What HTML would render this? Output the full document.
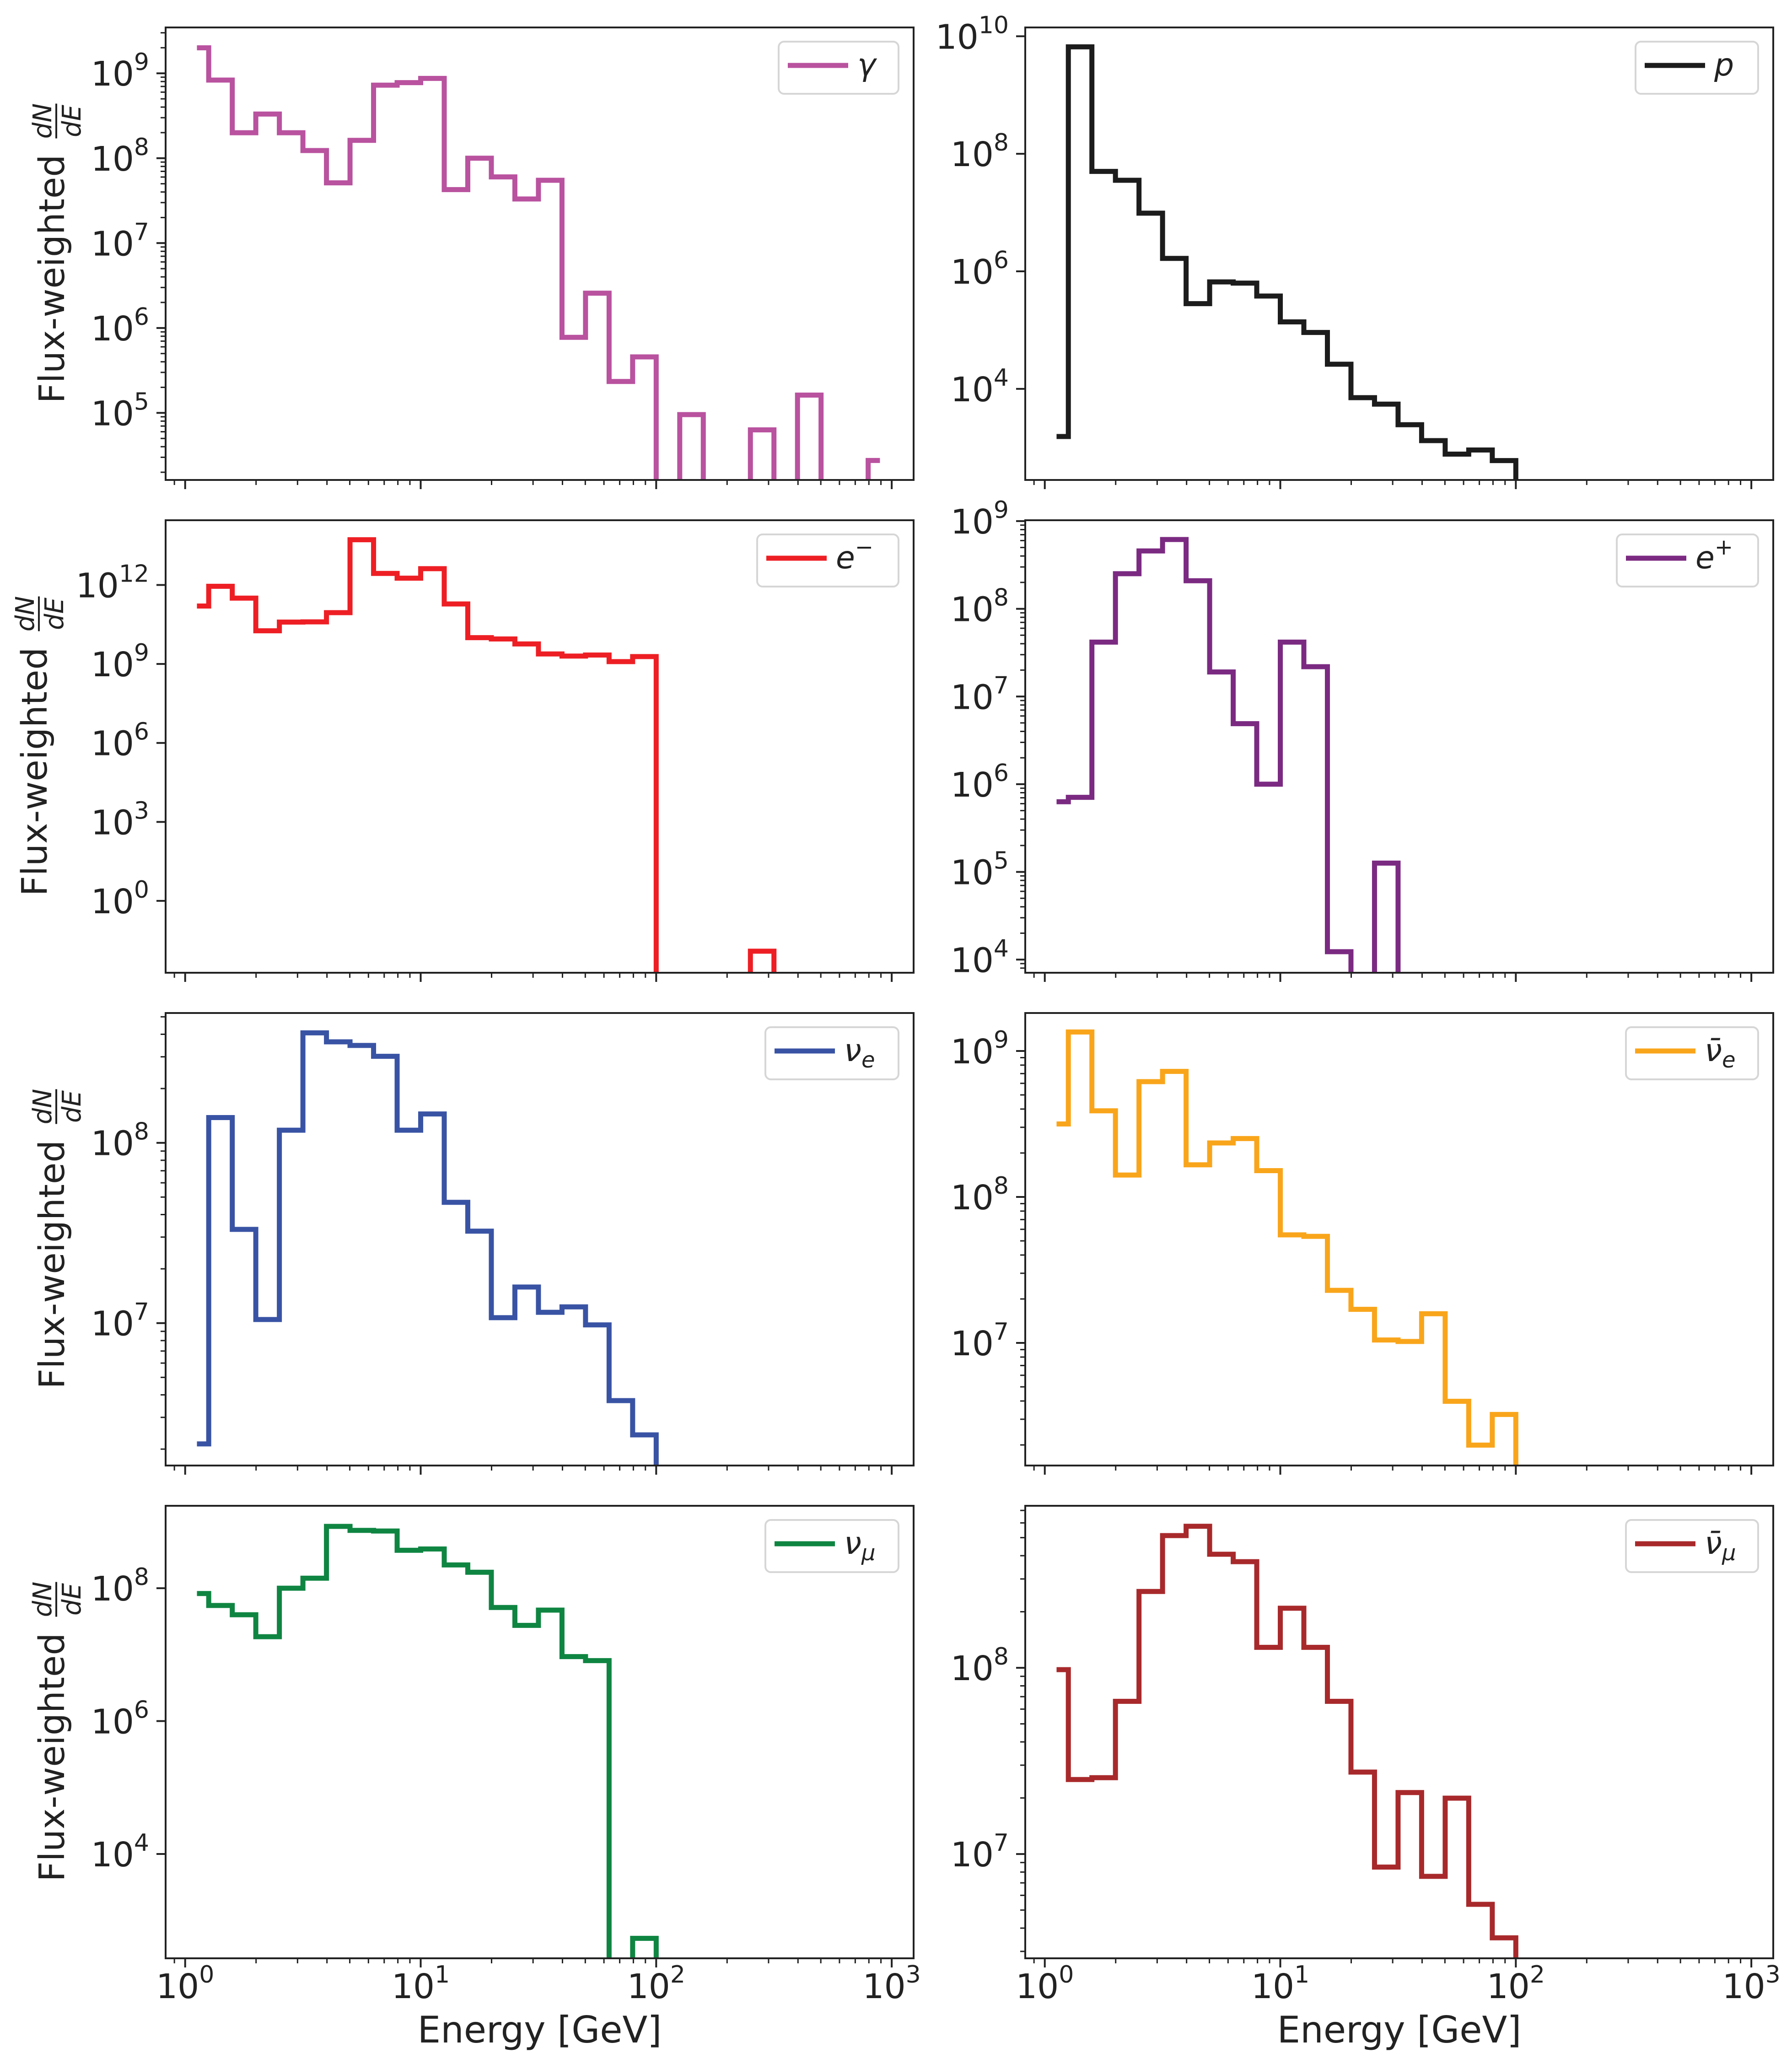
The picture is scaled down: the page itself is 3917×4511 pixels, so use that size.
<!DOCTYPE html>
<html><head><meta charset="utf-8">
<style>
html,body{margin:0;padding:0;background:#fff;}
svg{display:block;}
text{font-family:"DejaVu Sans","Liberation Sans",sans-serif;fill:#222;}
</style></head>
<body>
<svg id="fig" xmlns="http://www.w3.org/2000/svg" width="3917" height="4511" viewBox="0 0 3917 4511"></svg>
<script>
// shared log10 bin edges (GeV)
const binEdgesLog = [0.05,0.1,0.2,0.3,0.4,0.5,0.6,0.7,0.8,0.9,1.0,1.1,1.2,1.3,1.4,1.5,1.6,1.7,1.8,1.9,2.0,2.1,2.2,2.3,2.4,2.5,2.6,2.7,2.8,2.9,2.95];
// series values as log10(flux-weighted dN/dE); null = empty bin
const gammaValues = [9.30,8.92,8.30,8.52,8.30,8.09,7.71,8.21,8.86,8.89,8.94,7.63,8.00,7.78,7.52,7.74,5.89,6.41,5.37,5.66,null,4.98,null,null,4.80,null,5.21,null,null,4.44];
const protonValues = [3.19,9.82,7.70,7.55,6.99,6.22,5.45,5.82,5.80,5.58,5.14,4.96,4.42,3.85,3.74,3.39,3.12,2.89,2.96,2.78];
const electronValues = [11.20,11.95,11.50,10.26,10.59,10.60,10.95,13.72,12.44,12.26,12.62,11.28,10.00,9.95,9.76,9.38,9.30,9.34,9.09,9.28,null,null,null,null,-1.91];
const positronValues = [5.80,5.85,7.62,8.40,8.66,8.79,8.32,7.28,6.69,6.00,7.62,7.34,4.09,null,5.10];
const nueValues = [6.33,8.14,7.52,7.02,8.07,8.61,8.56,8.54,8.48,8.07,8.16,7.67,7.51,7.03,7.20,7.06,7.09,6.99,6.57,6.38];
const nuebarValues = [8.50,9.13,8.59,8.15,8.79,8.86,8.22,8.37,8.40,8.18,7.74,7.73,7.36,7.23,7.02,7.01,7.20,6.60,6.30,6.51];
const numuValues = [7.92,7.74,7.60,7.27,8.00,8.15,8.93,8.87,8.86,8.57,8.59,8.35,8.24,7.71,7.44,7.67,6.97,6.91,null,2.73];
const numubarValues = [7.99,7.40,7.41,7.82,8.41,8.71,8.76,8.61,8.57,8.11,8.32,8.11,7.82,7.44,6.93,7.33,6.88,7.30,6.73,6.55];
// axis limits (log10) and tick exponents
const yLimits = [[4.21,9.54],[2.45,10.15],[-2.73,14.46],[3.85,9.01],[6.21,8.72],[6.16,9.26],[2.43,9.24],[6.44,8.87]];
const yTickExps = [[5,6,7,8,9],[4,6,8,10],[0,3,6,9,12],[4,5,6,7,8,9],[7,8],[7,8,9],[4,6,8],[7,8]];
const xLimits = [-0.083,3.093];
const xTickExps = [0,1,2,3];

const panels = [
 {name:'gamma',vals:gammaValues,color:'#b9529f',col:0,row:0,minor:true,label:'γ',lw:262},
 {name:'proton',vals:protonValues,color:'#1c1c1c',col:1,row:0,minor:false,label:'p',lw:268},
 {name:'electron',vals:electronValues,color:'#ed1f24',col:0,row:1,minor:false,label:'e',sup:'−',lw:309},
 {name:'positron',vals:positronValues,color:'#7b2a82',col:1,row:1,minor:true,label:'e',sup:'+',lw:309},
 {name:'nu-e',vals:nueValues,color:'#3953a4',col:0,row:2,minor:true,label:'ν',sub:'e',lw:291},
 {name:'nu-e-bar',vals:nuebarValues,color:'#f9a51b',col:1,row:2,minor:true,label:'ν̄',sub:'e',lw:289},
 {name:'nu-mu',vals:numuValues,color:'#0f8542',col:0,row:3,minor:false,label:'ν',sub:'μ',lw:291},
 {name:'nu-mu-bar',vals:numubarValues,color:'#a8292b',col:1,row:3,minor:true,label:'ν̄',sub:'μ',lw:289}
];
const NS='http://www.w3.org/2000/svg';
const svg=document.getElementById('fig');
function mk(tag,attrs,parent){const e=document.createElementNS(NS,tag);for(const k in attrs)e.setAttribute(k,attrs[k]);(parent||svg).appendChild(e);return e;}
const colX=[362,2241], W=1635, rowY=[60,1137,2214,3291], H=989;
const defs=mk('defs',{});
const nBins=binEdgesLog.length-1;
panels.forEach((p,pi)=>{
  const L=colX[p.col], T=rowY[p.row], R=L+W, B=T+H;
  const yl=yLimits[pi];
  const xs=v=>L+(v-xLimits[0])/(xLimits[1]-xLimits[0])*W;
  const ys=v=>B-(v-yl[0])/(yl[1]-yl[0])*H;
  const g=mk('g',{});
  
  
  const cp=mk('clipPath',{id:'clip'+pi},defs);
  mk('rect',{x:L,y:T,width:W,height:H},cp);
  // histogram step line
  let d='', started=false;
  for(let i=0;i<nBins;i++){
    const v=(i<p.vals.length)?p.vals[i]:null;
    const x0=xs(binEdgesLog[i]), x1=xs(binEdgesLog[i+1]);
    const y=(v===null)?B+60:ys(v);
    if(!started){d+='M'+x0+','+y;started=true;}else{d+='V'+y;}
    d+='H'+x1;
  }
  const path=mk('path',{d:d,fill:'none',stroke:p.color,'stroke-width':11,'stroke-linejoin':'miter','clip-path':'url(#clip'+pi+')'},g);
  
  
  // frame
  const fr=mk('rect',{x:L,y:T,width:W,height:H,fill:'none',stroke:'#222','stroke-width':4},g);
  
  
  // x ticks
  for(let dcd=-1;dcd<=3;dcd++){
    for(let k=1;k<=9;k++){
      const lv=dcd+Math.log10(k);
      if(lv<xLimits[0]||lv>xLimits[1])continue;
      const x=xs(lv), major=(k===1);
      mk('line',{x1:x,x2:x,y1:B,y2:B+(major?20:11),stroke:'#222','stroke-width':major?4:3},g);
    }
  }
  if(p.row===3){
    xTickExps.forEach(e=>{
      const t=mk('text',{x:xs(e),y:B+87,'font-size':74,'text-anchor':'middle'},g);
      
      
      t.appendChild(document.createTextNode('10'));
      const s=mk('tspan',{dy:-34,'font-size':52},t);s.textContent=String(e);
    });
    const xl=mk('text',{x:L+W/2,y:B+184,'font-size':80,'text-anchor':'middle'},g);
    
    
    xl.textContent='Energy [GeV]';
  }
  // y ticks
  for(let dcd=Math.floor(yl[0]);dcd<=Math.ceil(yl[1]);dcd++){
    for(let k=1;k<=9;k++){
      if(k>1&&!p.minor)break;
      const lv=dcd+Math.log10(k);
      if(lv<yl[0]||lv>yl[1])continue;
      const major=(k===1)&&yTickExps[pi].includes(dcd);
      if(k===1&&!major&&!p.minor)continue;
      const y=ys(lv);
      mk('line',{x1:L,x2:L-(major?20:11),y1:y,y2:y,stroke:'#222','stroke-width':major?4:3},g);
    }
  }
  yTickExps[pi].forEach(e=>{
    const y=ys(e);
    const t=mk('text',{x:L-36,y:y+27,'font-size':74,'text-anchor':'end'},g);
    
    
    t.appendChild(document.createTextNode('10'));
    const s=mk('tspan',{dy:-34,'font-size':52},t);s.textContent=String(e);
  });
  // y label
  if(p.col===0){
    const bx=(p.row===1)?102:140, cy=(T+B)/2;
    const yg=mk('g',{transform:'translate('+bx+','+cy+') rotate(-90)'},g);
    
    
    const t=mk('text',{x:-327,y:0,'font-size':77},yg);t.textContent='Flux-weighted';
    const n=mk('text',{x:290,y:-28,'font-size':56,'font-style':'italic','text-anchor':'middle'},yg);n.textContent='dN';
    mk('line',{x1:252,x2:328,y1:-17,y2:-17,stroke:'#222','stroke-width':4},yg);
    const dd=mk('text',{x:290,y:36,'font-size':56,'font-style':'italic','text-anchor':'middle'},yg);dd.textContent='dE';
  }
  // legend
  const lg=mk('g',{},g);
  
  
  const lx=R-33-p.lw, ly=T+31;
  mk('rect',{x:lx,y:ly,width:p.lw,height:114,rx:12,fill:'#fff',stroke:'#d6d6d6','stroke-width':4},lg);
  mk('line',{x1:lx+20,x2:lx+152,y1:ly+52,y2:ly+52,stroke:p.color,'stroke-width':11},lg);
  const lt=mk('text',{x:lx+172,y:ly+74,'font-size':68,'font-style':'italic'},lg);
  lt.appendChild(document.createTextNode(p.label));
  if(p.sup){const s=mk('tspan',{dy:-30,'font-size':48,'font-style':'normal'},lt);s.textContent=p.sup;}
  if(p.sub){const s=mk('tspan',{dy:14,'font-size':48},lt);s.textContent=p.sub;}
});
</script>
</body></html>
